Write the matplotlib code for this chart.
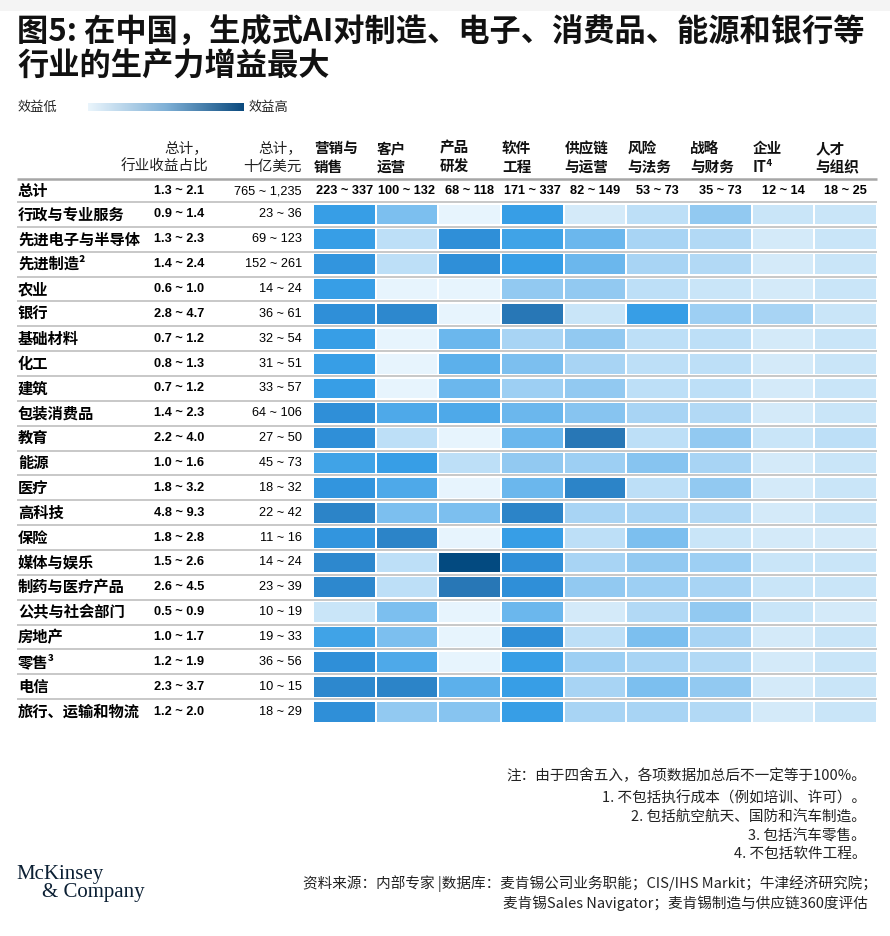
import numpy as np
import matplotlib
matplotlib.use('Agg')
import matplotlib.pyplot as plt
from matplotlib.colors import LinearSegmentedColormap, Normalize

plt.rcParams['font.family'] = ['Noto Sans CJK SC', 'DejaVu Sans']

# =========================
# 数据
# =========================

industries = ['行政与专业服务', '先进电子与半导体', '先进制造²', '农业', '银行', '基础材料',
              '化工', '建筑', '包装消费品', '教育', '能源', '医疗', '高科技', '保险',
              '媒体与娱乐', '制药与医疗产品', '公共与社会部门', '房地产', '零售³', '电信',
              '旅行、运输和物流']
share = ['0.9 ~ 1.4', '1.3 ~ 2.3', '1.4 ~ 2.4', '0.6 ~ 1.0', '2.8 ~ 4.7', '0.7 ~ 1.2',
         '0.8 ~ 1.3', '0.7 ~ 1.2', '1.4 ~ 2.3', '2.2 ~ 4.0', '1.0 ~ 1.6', '1.8 ~ 3.2',
         '4.8 ~ 9.3', '1.8 ~ 2.8', '1.5 ~ 2.6', '2.6 ~ 4.5', '0.5 ~ 0.9', '1.0 ~ 1.7',
         '1.2 ~ 1.9', '2.3 ~ 3.7', '1.2 ~ 2.0']
usd = ['23 ~ 36', '69 ~ 123', '152 ~ 261', '14 ~ 24', '36 ~ 61', '32 ~ 54', '31 ~ 51',
       '33 ~ 57', '64 ~ 106', '27 ~ 50', '45 ~ 73', '18 ~ 32', '22 ~ 42', '11 ~ 16',
       '14 ~ 24', '23 ~ 39', '10 ~ 19', '19 ~ 33', '36 ~ 56', '10 ~ 15', '18 ~ 29']
total_share = '1.3 ~ 2.1'
total_usd = '765 ~ 1,235'

functions = [('营销与', '销售'), ('客户', '运营'), ('产品', '研发'), ('软件', '工程'),
             ('供应链', '与运营'), ('风险', '与法务'), ('战略', '与财务'), ('企业', 'IT⁴'),
             ('人才', '与组织')]
func_totals = ['223 ~ 337', '100 ~ 132', '68 ~ 118', '171 ~ 337', '82 ~ 149',
               '53 ~ 73', '35 ~ 73', '12 ~ 14', '18 ~ 25']

# 效益强度（目测估计，1=最低，12=最高）
impact = np.array([
    [8.5, 6.0, 1.0, 8.5, 2.0, 3.0, 5.0, 2.5, 2.5],
    [8.5, 3.0, 9.0, 8.0, 6.5, 4.0, 3.5, 2.0, 2.5],
    [8.8, 3.0, 9.0, 8.5, 6.5, 4.0, 3.5, 2.0, 2.5],
    [8.5, 1.0, 1.0, 5.0, 5.0, 3.0, 2.5, 2.0, 2.5],
    [9.0, 9.3, 1.0, 10.0, 2.5, 8.5, 4.5, 4.0, 2.5],
    [8.5, 1.0, 6.5, 4.0, 5.0, 3.0, 3.0, 2.0, 2.5],
    [8.5, 1.0, 7.0, 6.0, 4.0, 3.0, 3.0, 2.0, 2.5],
    [8.5, 1.0, 6.5, 4.5, 5.0, 3.0, 3.0, 2.0, 2.5],
    [9.0, 7.5, 7.5, 6.5, 5.5, 4.0, 3.5, 2.0, 2.5],
    [9.0, 3.0, 1.0, 6.5, 10.0, 3.0, 5.0, 2.5, 3.0],
    [8.0, 8.5, 3.0, 5.0, 4.5, 5.5, 4.0, 2.0, 2.5],
    [8.8, 7.5, 1.0, 6.5, 9.5, 3.0, 5.0, 2.0, 2.5],
    [9.5, 6.0, 6.0, 9.5, 4.0, 4.0, 3.5, 2.0, 2.5],
    [8.8, 9.5, 1.0, 8.5, 3.0, 6.0, 2.5, 2.0, 2.0],
    [9.3, 3.0, 12.0, 9.0, 4.0, 5.0, 4.5, 2.5, 2.5],
    [9.3, 3.0, 10.0, 9.0, 5.0, 4.5, 4.0, 2.5, 2.5],
    [2.5, 6.0, 1.0, 6.5, 2.0, 3.5, 5.0, 2.5, 2.0],
    [8.0, 6.0, 1.0, 9.0, 3.0, 6.0, 4.0, 2.0, 2.5],
    [9.0, 7.5, 1.0, 8.5, 4.5, 4.0, 3.5, 2.0, 2.5],
    [9.3, 9.5, 7.0, 8.5, 4.0, 6.0, 5.0, 2.0, 2.5],
    [9.0, 5.0, 5.5, 8.5, 4.0, 4.0, 3.5, 2.0, 2.5],
])

notes = ['注：由于四舍五入，各项数据加总后不一定等于100%。',
         '1. 不包括执行成本（例如培训、许可）。',
         '2. 包括航空航天、国防和汽车制造。',
         '3. 包括汽车零售。',
         '4. 不包括软件工程。']
sources = ['资料来源：内部专家 |数据库：麦肯锡公司业务职能；CIS/IHS Markit；牛津经济研究院；',
           '麦肯锡Sales Navigator；麦肯锡制造与供应链360度评估']

# =========================
# 颜色
# =========================

anchors = [(1, '#e7f4fd'), (2, '#d4eaf9'), (3, '#bddff7'), (4, '#a7d4f4'),
           (5, '#92c9f1'), (6, '#7cbfef'), (7, '#5cb0eb'), (8, '#40a3e7'),
           (8.5, '#379ee6'), (9, '#2f90d9'), (10, '#2877b6'), (12, '#034a80')]
vmin, vmax = 1, 12
cmap = LinearSegmentedColormap.from_list(
    'mck', [((v - vmin) / (vmax - vmin), c) for v, c in anchors])
norm = Normalize(vmin, vmax)
legend_cmap = LinearSegmentedColormap.from_list('leg', ['#eaf5fc', '#7fb0d6', '#0b4a7e'])

# =========================
# 绘图（像素坐标）
# =========================

W, H = 890, 936
fig = plt.figure(figsize=(W / 100, H / 100), dpi=100)
ax = fig.add_axes([0, 0, 1, 1])
ax.set_xlim(0, W)
ax.set_ylim(H, 0)
ax.axis('off')

ax.axhspan(0, 11, color='#f4f4f4', lw=0)

title_kw = dict(fontsize=22.5, fontweight='bold', color='#111111', va='center', ha='left')
ax.text(17, 33, '图5: 在中国，生成式AI对制造、电子、消费品、能源和银行等', **title_kw)
ax.text(17, 67, '行业的生产力增益最大', **title_kw)

# 图例
ax.text(18, 107, '效益低', fontsize=9.5, va='center', color='#222222')
ax.text(249, 107, '效益高', fontsize=9.5, va='center', color='#222222')
grad = np.linspace(0, 1, 256).reshape(1, -1)
ax.imshow(grad, cmap=legend_cmap, aspect='auto', extent=(88, 244, 111, 103), zorder=2)

# 表格布局
left, right = 17, 877
hx0, hx1 = 313, 877
ncol = len(functions)
col_w = (hx1 - hx0) / ncol
row_top = 202
pitch = 24.86
nrow = len(industries)
row_y = row_top + pitch * (np.arange(nrow) + 0.5)
total_y = 191

num_font = ['Liberation Sans', 'DejaVu Sans']
cjk_font = ['Noto Sans CJK SC', 'DejaVu Sans']
num_size = 9.2

# 表头
hdr_size = 10.5
ax.text(208, 148, '总计，', fontsize=hdr_size, ha='right', va='center', color='#222222')
ax.text(208, 167, '行业收益占比', fontsize=hdr_size, ha='right', va='center', color='#222222')
ax.text(302, 148, '总计，', fontsize=hdr_size, ha='right', va='center', color='#222222')
ax.text(302, 167, '十亿美元', fontsize=hdr_size, ha='right', va='center', color='#222222')
for j, (l1, l2) in enumerate(functions):
    x = hx0 + j * col_w + 1
    ax.text(x, 148, l1, fontsize=hdr_size, fontweight='bold', ha='left', va='center',
            color='#111111', family=cjk_font)
    ax.text(x, 167, l2, fontsize=hdr_size, fontweight='bold', ha='left', va='center',
            color='#111111', family=cjk_font)

ax.hlines(179, left, right, color='#a6a6a6', lw=1.8)

# 总计行
ax.text(18, total_y, '总计', fontsize=11, fontweight='bold', va='center')
ax.text(154, total_y, total_share, fontsize=num_size, fontweight='bold', va='center',
        family=num_font)
ax.text(302, total_y, total_usd, fontsize=num_size, ha='right', va='center', family=num_font)
for j, t in enumerate(func_totals):
    ax.text(hx0 + (j + 0.5) * col_w, total_y, t, fontsize=num_size, fontweight='bold',
            ha='center', va='center', family=num_font)

# 行业行
for i, name in enumerate(industries):
    ax.text(18, row_y[i], name, fontsize=11, fontweight='bold', va='center',
            family=cjk_font)
    ax.text(154, row_y[i], share[i], fontsize=num_size, fontweight='bold', va='center',
            family=num_font)
    ax.text(302, row_y[i], usd[i], fontsize=num_size, ha='right', va='center',
            family=num_font)

# 热力图单元格
for j in range(ncol):
    ax.barh(row_y, col_w - 2.2, left=hx0 + j * col_w + 1.1, height=pitch - 5,
            color=cmap(norm(impact[:, j])), zorder=2)

# 行分隔线
ax.hlines(row_top + pitch * np.arange(nrow), left, right, color='#c4c4c4', lw=1.3,
          zorder=3)

# 注释
note_size = 10.5
note_y = [776, 798, 817, 836, 854]
for y, t in zip(note_y, notes):
    ax.text(866, y, t, fontsize=note_size, ha='right', va='center', color='#222222')
src_y = [884, 903]
ax.text(877, src_y[0], sources[0], fontsize=note_size, ha='right', va='center', color='#222222')
ax.text(868, src_y[1], sources[1], fontsize=note_size, ha='right', va='center', color='#222222')

# 标志
logo_font = ['Liberation Serif', 'DejaVu Serif']
ax.text(16, 875, 'McKinsey', fontsize=15, family=logo_font, va='center', color='#0b1f33')
ax.text(42, 893, '& Company', fontsize=15, family=logo_font, va='center', color='#0b1f33')

fig.savefig('out.png', dpi=100)
